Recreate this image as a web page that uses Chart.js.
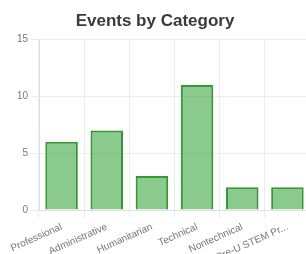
<!DOCTYPE html>
<html>
<head>
<meta charset="utf-8">
<script src="https://cdn.jsdelivr.net/npm/chart.js@4/dist/chart.umd.min.js"></script>
<style>
  html, body { margin: 0; padding: 0; background: #fff; overflow: hidden; }
  #wrap { width: 312px; height: 254px; }
</style>
</head>
<body>
<div id="wrap"><canvas id="events-chart"></canvas></div>
<script>
// Dados do gráfico
const categories = ['Professional', 'Administrative', 'Humanitarian', 'Technical', 'Nontechnical', 'Pre-U STEM Program'];
const eventCounts = [6, 7, 3, 11, 2, 2];
const yTicks = [0, 5, 10, 15];

function shortLabel(text) {
    return text.length > 14 ? text.slice(0, 13) + '...' : text;
}

const ctx = document.getElementById('events-chart').getContext('2d');
new Chart(ctx, {
    type: 'bar',
    data: {
        labels: categories,
        datasets: [{
            label: 'Events',
            data: eventCounts,
            backgroundColor: 'rgba(76, 175, 80, 0.65)',
            borderColor: 'rgb(56, 150, 52)',
            borderWidth: 2
        }]
    },
    options: {
        responsive: true,
        maintainAspectRatio: false,
        animation: false,
        layout: { padding: { left: 0, right: 2, top: 0, bottom: 0 } },
        plugins: {
            legend: { display: false },
            title: {
                display: true,
                text: 'Events by Category',
                color: '#3a3a3a',
                font: { family: 'Liberation Sans, Arial, sans-serif', size: 17, weight: 'bold' },
                padding: { top: 11, bottom: 8 }
            }
        },
        scales: {
            y: {
                min: yTicks[0],
                max: yTicks[yTicks.length - 1],
                afterBuildTicks: function(axis) {
                    axis.ticks = yTicks.map(v => ({ value: v }));
                },
                afterFit: function(axis) {
                    axis.width = 39;
                },
                ticks: {
                    color: '#777',
                    font: { family: 'Liberation Sans, Arial, sans-serif', size: 10 }
                },
                grid: { color: '#ececec' },
                border: { color: '#e0e0e0' }
            },
            x: {
                afterFit: function(axis) {
                    axis.height = 44;
                },
                ticks: {
                    color: '#777',
                    font: { family: 'Liberation Sans, Arial, sans-serif', size: 10 },
                    maxRotation: 24,
                    minRotation: 24,
                    autoSkip: false,
                    callback: function(value) {
                        return shortLabel(this.getLabelForValue(value));
                    }
                },
                grid: { color: '#ececec' },
                border: { color: '#e0e0e0' }
            }
        }
    }
});
</script>
</body>
</html>
